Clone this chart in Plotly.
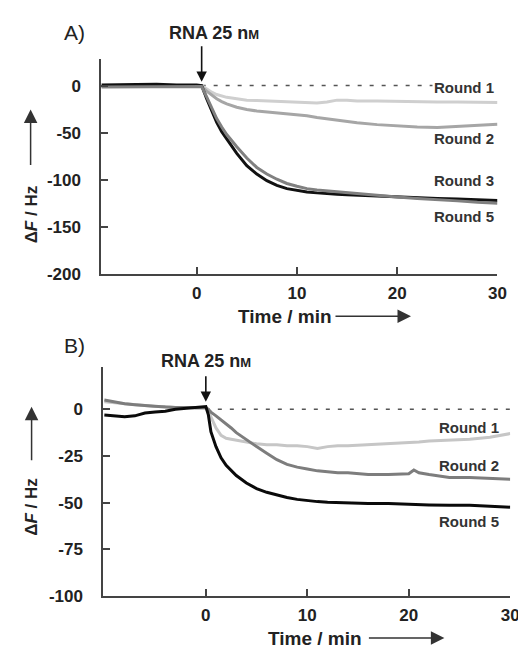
import plotly.graph_objects as go

# ---------------- Panel A data ----------------
t_A = [-9.5, -8, -6, -4, -2, 0, 0.5, 1, 1.5, 2, 2.5, 3, 4, 5, 6, 7, 8, 9, 10, 11, 12, 13, 14, 15, 16, 18, 20, 22, 24, 26, 28, 30]
A_round1 = [-1, -1, -1, -1, -1, -0.5, 0, -4, -7, -9.5, -11, -12.5, -14, -15.5, -16, -16.5, -17, -17.5, -18, -18, -18.5, -17.5, -15.5, -15.5, -16.5, -16.5, -17, -17.5, -17.5, -17.5, -18, -18]
A_round2 = [-1, -1, -1, -1, -1, -0.5, -1, -6, -10, -14, -17, -19.5, -23, -25.5, -27, -28, -29, -29.5, -30.5, -32, -34, -35.5, -37, -38.5, -39.5, -41.5, -43, -44, -44.5, -43.5, -42, -41]
A_round3 = [-1.5, -1.5, -1.5, -1.5, -1.5, -1, -1, -12, -24, -35, -44, -52, -65, -77, -87, -94, -99.5, -104, -107, -109.5, -111, -112, -113, -114, -115, -117, -118.5, -120, -121, -122.5, -124, -125]
A_round5 = [0.5, 0.5, 1, 1.5, 0.5, 0.5, 0, -14, -27, -39, -49, -57, -72, -85, -94, -101, -106, -109.5, -111.5, -113, -114, -115, -115.5, -116, -116.5, -117.5, -118.5, -119, -120, -120.5, -121, -122]

# ---------------- Panel B data ----------------
t_B = [-10, -9, -8, -7, -6, -5, -4, -3, -2, -1, 0, 0.25, 0.5, 1, 1.5, 2, 2.5, 3, 4, 5, 6, 7, 8, 9, 10, 11, 12, 13, 14, 16, 18, 20, 20.5, 21, 22, 24, 26, 28, 30]
B_round1 = [4, 3.5, 3, 2.5, 2, 1.5, 1.5, 1, 1, 0.5, 0.5, -1, -4, -10, -14, -15.5, -16, -16.5, -17.5, -18.5, -19, -19, -19.5, -19.5, -20, -21, -20, -19.5, -19.5, -19, -18.5, -18, -17.5, -17.5, -17, -16.5, -16, -15, -13]
B_round2 = [5, 4, 3, 2.5, 2, 1.5, 1.2, 1, 1, 1, 1, 0, -1.5, -3.5, -5.5, -8, -10, -12.5, -16.5, -20, -23.5, -27, -29.5, -31, -32, -33, -33.5, -34, -34, -35, -35, -34.5, -32.5, -34, -35, -36.5, -36.5, -37, -37.5]
B_round5 = [-3, -3.5, -4, -3.5, -2, -1.5, -1, 0, 0.5, 1, 1.5, -3, -12, -20, -26, -30, -33, -35.5, -39.5, -42.5, -44.5, -46, -47.3, -48.3, -49, -49.5, -49.8, -50, -50.3, -50.5, -50.5, -51, -51, -51, -51.3, -51.5, -51.5, -52, -52.5]

baseline_A_x = [0.5, 30]
baseline_B_x = [0, 30]
baseline_y = [0, 0]

yticks_A = [0, -50, -100, -150, -200]
yticks_B = [0, -25, -50, -75, -100]
xticks = [0, 10, 20, 30]

FONT = "Liberation Sans, Arial, sans-serif"
AX = "#444444"

fig = go.Figure()

def line(x, y, color, xa, ya, width=3, dash=None):
    fig.add_trace(go.Scatter(x=x, y=y, mode="lines", xaxis=xa, yaxis=ya,
                             line=dict(color=color, width=width, dash=dash),
                             showlegend=False, hoverinfo="skip"))

# Panel A
line(baseline_A_x, baseline_y, "#555555", "x", "y", width=1.5, dash="4px,8px")
line(t_A, A_round1, "#cfcfcf", "x", "y")
line(t_A, A_round2, "#a6a6a6", "x", "y")
line(t_A, A_round5, "#111111", "x", "y")
line(t_A, A_round3, "#808080", "x", "y")
# Panel B
line(baseline_B_x, baseline_y, "#555555", "x2", "y2", width=1.5, dash="4px,8px")
line(t_B, B_round1, "#c6c6c6", "x2", "y2")
line(t_B, B_round2, "#7d7d7d", "x2", "y2")
line(t_B, B_round5, "#0a0a0a", "x2", "y2")

axis_common = dict(showline=True, linewidth=2, linecolor=AX, ticks="inside", ticklen=7,
                   tickwidth=2, tickcolor=AX, showgrid=False, zeroline=False,
                   tickfont=dict(family=FONT, size=17, color="#222"))

W, H = 526, 648
def dx(a, b): return [a / W, b / W]
def dy(top, bot): return [1 - bot / H, 1 - top / H]

fig.update_layout(
    width=W, height=H, margin=dict(l=0, r=0, t=0, b=0),
    paper_bgcolor="white", plot_bgcolor="white",
    xaxis=dict(domain=dx(95, 498), range=[-9.5, 30], tickvals=xticks,
               ticktext=[f"<b>{v}</b>" for v in xticks], anchor="y", ticklabelstandoff=3, **axis_common),
    yaxis=dict(domain=dy(52, 270), range=[-200, 28], tickvals=yticks_A,
               ticktext=[f"<b>{v}</b>" for v in yticks_A], anchor="x", ticklabelstandoff=15, **axis_common),
    xaxis2=dict(domain=dx(97, 511), range=[-10.1, 30], tickvals=xticks,
                ticktext=[f"<b>{v}</b>" for v in xticks], anchor="y2", ticklabelstandoff=3, **axis_common),
    yaxis2=dict(domain=dy(365, 597), range=[-100, 22.5], tickvals=yticks_B,
                ticktext=[f"<b>{v}</b>" for v in yticks_B], anchor="x2", ticklabelstandoff=15, **axis_common),
)

ann = []
def txt(x, y, s, size=15, xref="paper", yref="paper", bg=None, angle=0, color="#222"):
    d = dict(x=x, y=y, xref=xref, yref=yref, text=s, showarrow=False,
             font=dict(family=FONT, size=size, color=color), textangle=angle,
             xanchor="center", yanchor="middle")
    if bg:
        d["bgcolor"] = bg
    ann.append(d)

def px(xp): return xp / W
def py(yp): return 1 - yp / H

# panel letters
txt(px(68), py(25), "A)", size=21)
txt(px(68), py(343), "B)", size=21)

rna = "<b>RNA 25 n<span style='font-size:13px'>M</span></b>"
txt(px(210), py(25), rna, size=18)
txt(px(201), py(359), rna, size=18)

# injection arrows (tip at data position)
ann.append(dict(x=0.5, y=4, xref="x", yref="y", ax=0, ay=-37, showarrow=True,
                arrowhead=2, arrowsize=1.3, arrowwidth=1.6, arrowcolor="#111", text=""))
ann.append(dict(x=0, y=4, xref="x2", yref="y2", ax=0, ay=-27, showarrow=True,
                arrowhead=2, arrowsize=1.3, arrowwidth=1.6, arrowcolor="#111", text=""))

# round labels
for x, y, s, bg in [(26.7, -2, "Round 1", "white"), (26.7, -56, "Round 2", None),
                    (26.7, -101, "Round 3", None), (26.7, -139, "Round 5", None)]:
    txt(x, y, f"<b>{s}</b>", size=15, xref="x", yref="y", bg=bg, color="#333")
for x, y, s in [(25.9, -9.7, "Round 1"), (25.9, -30.3, "Round 2"), (25.9, -60, "Round 5")]:
    txt(x, y, f"<b>{s}</b>", size=15, xref="x2", yref="y2", color="#333")

# x-axis titles with arrows
txt(px(282), py(313), "<b>Time / min</b>", size=19)
txt(px(312), py(640), "<b>Time / min</b>", size=19)
for x0, x1, yy in [(333, 410, 313), (367, 444, 640)]:
    ann.append(dict(x=px(x1), y=py(yy), xref="paper", yref="paper", ax=-(x1 - x0), ay=0,
                    showarrow=True, arrowhead=2, arrowsize=1.8, arrowwidth=1.5,
                    arrowcolor="#333", text=""))

# y-axis titles with arrows
yt = "<b>Δ<i>F</i> / Hz</b>"
txt(px(24), py(210), yt, size=17, angle=-90)
txt(px(24), py(507), yt, size=17, angle=-90)
for x0, ytop, ybot in [(23, 103, 160), (24, 405, 460)]:
    ann.append(dict(x=px(x0), y=py(ytop), xref="paper", yref="paper", ax=0, ay=(ybot - ytop),
                    showarrow=True, arrowhead=2, arrowsize=1.8, arrowwidth=1.5,
                    arrowcolor="#333", text=""))

fig.update_layout(annotations=ann)
fig.write_html("out.html")
